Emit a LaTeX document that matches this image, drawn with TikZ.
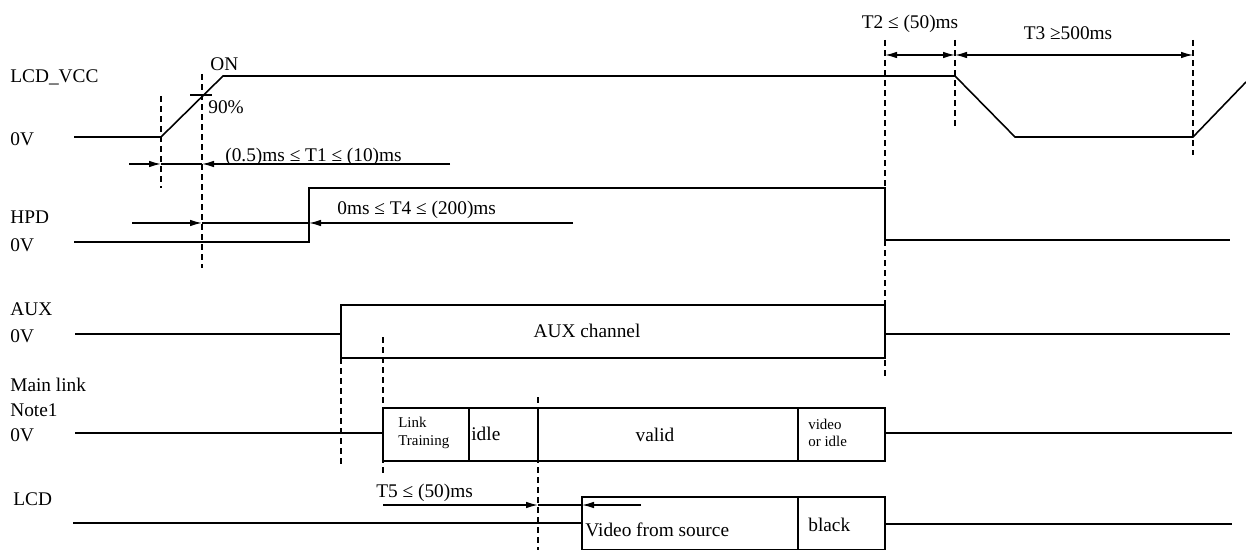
\documentclass[tikz,border=0pt]{standalone}
\usepackage{fontspec}
\setmainfont{Liberation Serif}
\usetikzlibrary{arrows.meta,positioning,calc}

\begin{document}
\begin{tikzpicture}[x=0.02cm,y=-0.02cm,>={Latex[length=2.4mm,width=1.3mm]},
  wave/.style={line width=0.9pt},
  guide/.style={line width=0.7pt,dash pattern=on 3.4pt off 2.3pt},
  dim/.style={->,line width=0.7pt},
  sig/.style={anchor=west,inner sep=0pt,text height=7.3pt,text depth=0pt,font=\fontsize{11}{12}\selectfont},
  tiny/.style={anchor=west,inner sep=0pt,align=left,font=\fontsize{8.5}{10}\selectfont}]
\useasboundingbox (0,0) rectangle (1246,550);

% signal names
\node[sig] (vcc) at (10,76) {LCD\_VCC};
\node[sig] (vcc0) at (10,139) {0V};
\node[sig] (hpd) at (10,217) {HPD};
\node[sig] (hpd0) at (10,245) {0V};
\node[sig] (aux) at (10,309) {AUX};
\node[sig] (aux0) at (10,336) {0V};
\node[sig] (ml) at (10,385) {Main link};
\node[sig] (note) at (10,410) {Note1};
\node[sig] (ml0) at (10,435) {0V};
\node[sig] (lcd) at (13,499) {LCD};

% waveforms
\draw[wave] (74,137) -- (161,137) -- (223,76) -- (955,76) -- (1015,137) -- (1193,137) -- (1246,82);
\draw[wave] (190,95) -- (212,95);
\draw[wave] (74,242) -- (309,242) -- (309,188) -- (885,188) -- (885,240) -- (1230,240);
\draw[wave] (75,334) -- (341,334) (885,334) -- (1230,334);
\draw[wave] (341,305) rectangle (885,358);
\draw[wave] (75,433) -- (383,433) (885,433) -- (1232,433);
\draw[wave] (383,408) rectangle (885,461);
\foreach \x in {469,538,798}{\draw[wave] (\x,408) -- (\x,461);}
\draw[wave] (73,523) -- (582,523) (885,524) -- (1232,524);
\draw[wave] (582,497) rectangle (885,550);
\draw[wave] (798,497) -- (798,550);

% dashed guides
\foreach \x/\ya/\yb in {161/96/188,202/74/268,885/40/380,955/40/130,1193/40/155,341/358/468,383/337/473,538/397/550}
  {\draw[guide] (\x,\ya) -- (\x,\yb);}

% timing arrows
\coordinate (p1) at (129,164); \coordinate (p2) at (161,164); \coordinate (p3) at (202,164); \coordinate (p4) at (450,164);
\coordinate (q1) at (132,223); \coordinate (q2) at (202,223); \coordinate (q3) at (309,223); \coordinate (q4) at (573,223);
\coordinate (r1) at (383,505); \coordinate (r2) at (538,505); \coordinate (r3) at (582,505); \coordinate (r4) at (641,505);
\foreach \a/\b/\c/\d in {p1/p2/p3/p4,q1/q2/q3/q4,r1/r2/r3/r4}
  {\draw[dim] (\a)--(\b); \draw[line width=0.7pt] (\b)--(\c); \draw[dim] (\d)--(\c);}
\coordinate (s1) at (885,55); \coordinate (s2) at (955,55); \coordinate (s3) at (1193,55);
\draw[dim,<->] (s1) -- (s2);
\draw[dim,<->] (s2) -- (s3);

% labels
\node[sig] (on) at (210,64) {ON};
\node[sig] (pct) at (208,107) {90\%};
\node[sig] (t1) at (225,155) {(0.5)ms ≤ T1 ≤ (10)ms};
\node[sig] (t4) at (337,208) {0ms ≤ T4 ≤ (200)ms};
\node[sig] (t5) at (376,491) {T5 ≤ (50)ms};
\node[sig,anchor=center] (t2) at (910,22) {T2 ≤ (50)ms};
\node[sig,anchor=center] (t3) at (1068,33) {T3 ≥500ms};
\node[sig,anchor=center] (auxch) at (587,331) {AUX channel};
\node[tiny] (train) at (398,433) {Link\\Training};
\node[sig] (idle) at (471,434) {idle};
\node[sig,anchor=center] (valid) at (655,435) {valid};
\node[tiny] (vidle) at (808,433) {video\\or idle};
\node[sig] (src) at (585,530) {Video from source};
\node[sig] (black) at (808,525) {black};
\end{tikzpicture}
\end{document}
